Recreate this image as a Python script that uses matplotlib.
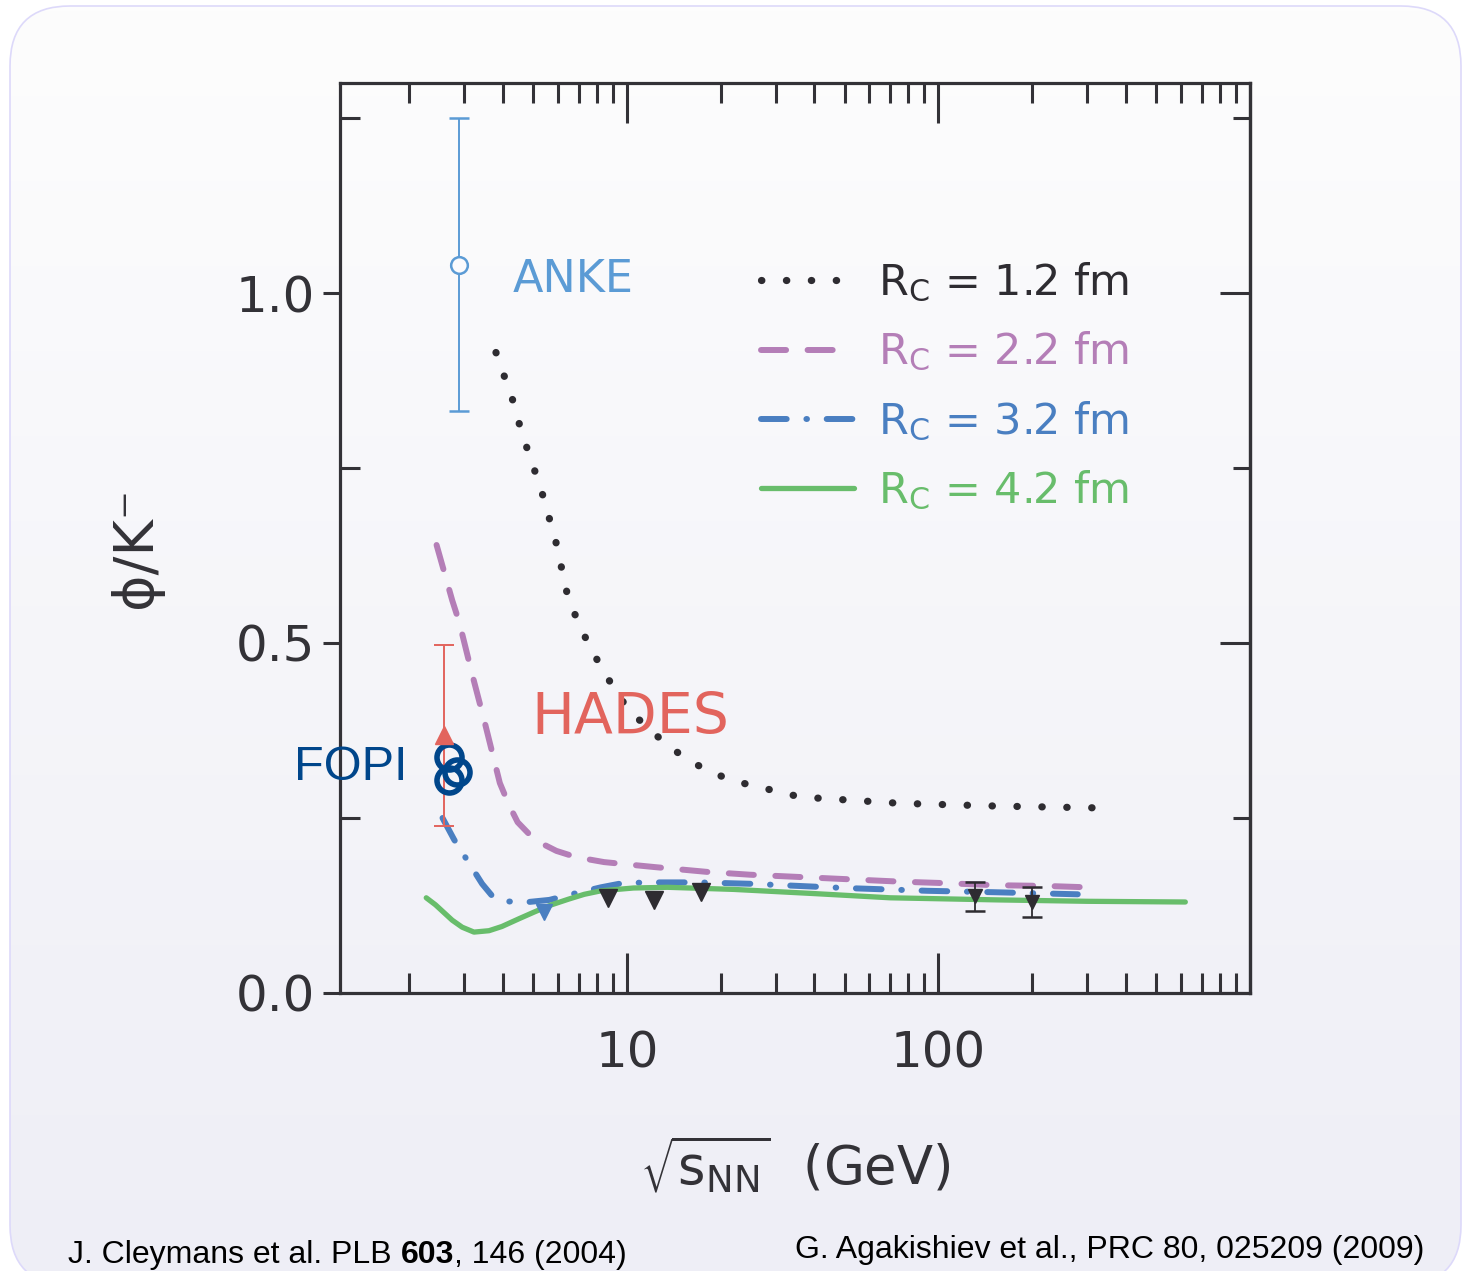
import numpy as np
import matplotlib
matplotlib.use("Agg")
import matplotlib.pyplot as plt
from matplotlib.patches import FancyBboxPatch
from matplotlib.colors import LinearSegmentedColormap

# --- model curves (phi/K- vs sqrt(s_NN)) ---
rc12_x = [3.8, 4.3, 4.6, 5.3, 5.9, 6.5, 7.6, 9.2, 10.2, 11.8, 13.5, 15.7, 18.5, 22, 36, 75, 155, 370]
rc12_y = [0.915, 0.847, 0.80, 0.72, 0.647, 0.561, 0.494, 0.431, 0.403, 0.377, 0.354, 0.333, 0.316, 0.303,
          0.28, 0.271, 0.267, 0.264]

rc22_x = [2.45, 2.75, 2.9, 3.18, 3.5, 3.91, 4.18, 4.46, 4.88, 5.36, 5.94, 6.88, 8.45, 12.2, 18.1, 24.8,
          76, 104, 151, 219, 300]
rc22_y = [0.64, 0.561, 0.529, 0.457, 0.386, 0.30, 0.269, 0.244, 0.226, 0.213, 0.203, 0.194, 0.187, 0.18,
          0.173, 0.169, 0.159, 0.157, 0.154, 0.153, 0.151]

rc32_x = [2.56, 2.79, 3.14, 3.43, 3.69, 3.97, 4.83, 5.64, 6.63, 8.26, 9.7, 12, 17, 25, 50, 92, 150, 280]
rc32_y = [0.25, 0.219, 0.183, 0.156, 0.139, 0.131, 0.13, 0.133, 0.141, 0.151, 0.157, 0.158, 0.158, 0.156,
          0.15, 0.146, 0.144, 0.141]

rc42_x = [2.27, 2.43, 2.75, 2.96, 3.23, 3.61, 3.97, 4.5, 5.06, 5.73, 6.49, 7.3, 8.26, 10.5, 13.5, 22, 40,
          70, 155, 300, 620]
rc42_y = [0.136, 0.126, 0.104, 0.094, 0.087, 0.089, 0.095, 0.106, 0.116, 0.126, 0.134, 0.141, 0.146, 0.150,
          0.151, 0.148, 0.142, 0.136, 0.133, 0.131, 0.130]

# --- data points ---
sps_x = [8.7, 12.2, 17.3]
sps_y = [0.136, 0.133, 0.144]
rhic_x = [131, 200]
rhic_y = [0.138, 0.13]
rhic_err = [0.021, 0.021]
ags_x = [5.4]
ags_y = [0.116]
anke_x = [2.9]
anke_y = [1.04]
anke_lo = [0.209]
anke_hi = [0.21]
hades_x = [2.58]
hades_y = [0.369]
hades_lo = [0.13]
hades_hi = [0.128]
fopi_x = [2.69, 2.85, 2.69]
fopi_y = [0.337, 0.316, 0.304]

legend_labels = [r'R$_\mathrm{C}$ = 1.2 fm', r'R$_\mathrm{C}$ = 2.2 fm',
                 r'R$_\mathrm{C}$ = 3.2 fm', r'R$_\mathrm{C}$ = 4.2 fm']
ytick_vals = [0.0, 0.5, 1.0]
ytick_labels = ['0.0', '0.5', '1.0']
xtick_vals = [10, 100]
xtick_labels = ['10', '100']

W, H = 1462, 1271
fig = plt.figure(figsize=(W / 100, H / 100), dpi=100)
fig.patch.set_facecolor('white')

# background rounded panel with soft gradient
bg = fig.add_axes([0, 0, 1, 1], zorder=-10)
bg.axis('off')
cmap = LinearSegmentedColormap.from_list('bgrad', ['#eeeef6', '#fdfdfd'])
grad = np.linspace(0, 1, 256)[:, None]
im = bg.imshow(grad, cmap=cmap, extent=[10, 1461, -14, 1265], origin='lower', aspect='auto')
bg.set_xlim(0, W)
bg.set_ylim(0, H)
panel = FancyBboxPatch((10, -14), 1451, 1279, boxstyle="round,pad=0,rounding_size=60",
                       facecolor='none', edgecolor='#ddd9fa', linewidth=1.2, transform=bg.transData)
bg.add_patch(panel)
im.set_clip_path(panel)

ax = fig.add_axes([340 / W, (H - 993) / H, 910 / W, 910 / H])
ax.set_facecolor('none')
ax.set_xscale('log')
ax.set_xlim(1.2, 1000)
ax.set_ylim(0, 1.3)

dark = '#2e2c31'
c_purple = '#b47eb7'
c_blue = '#4a7fc1'
c_green = '#68bd6b'

ax.plot(rc12_x, rc12_y, color=dark, lw=5.2, linestyle=(0, (0.05, 3.4)), dash_capstyle='round',
        label=legend_labels[0])
ax.plot(rc22_x, rc22_y, color=c_purple, lw=4.3, linestyle=(0, (4.2, 3.6)), dash_capstyle='round',
        label=legend_labels[1])
ax.plot(rc32_x, rc32_y, color=c_blue, lw=4.3, linestyle=(0, (4.3, 3.3, 0.1, 3.3)), dash_capstyle='round',
        label=legend_labels[2])
ax.plot(rc42_x, rc42_y, color=c_green, lw=3.8, solid_capstyle='round', label=legend_labels[3])

ax.plot(sps_x, sps_y, 'v', color=dark, ms=13, ls='none')
ax.errorbar(rhic_x, rhic_y, yerr=rhic_err, fmt='v', color=dark, ms=10, capsize=7, elinewidth=1.3,
            capthick=1.8)
ax.plot(ags_x, ags_y, 'v', color=c_blue, ms=12, ls='none')

ax.errorbar(anke_x, anke_y, yerr=[anke_lo, anke_hi], fmt='o', color='#5b9bd5', mfc='#fbfbfd', ms=12,
            mew=1.8, capsize=7, elinewidth=1.4, capthick=1.4)
ax.errorbar(hades_x, hades_y, yerr=[hades_lo, hades_hi], fmt='^', color='#e2645d', ms=13,
            capsize=7, elinewidth=1.4, capthick=1.4)
ax.plot(fopi_x, fopi_y, 'o', color='#00468b', mfc='none', ms=18, mew=4, ls='none')

ax.text(4.3, 1.02, 'ANKE', color='#5b9bd5', fontsize=32, va='center', ha='left')
ax.text(4.95, 0.392, 'HADES', color='#e2645d', fontsize=41, va='center', ha='left')
ax.text(2.42, 0.322, 'FOPI  ', color='#00468b', fontsize=35, va='center', ha='right',
        family='Liberation Sans')

leg = ax.legend(loc='upper left', bbox_to_anchor=(0.463, 0.804), frameon=False, fontsize=31,
                handlelength=2.15, handletextpad=0.55, labelspacing=0.6, borderpad=0, borderaxespad=0,
                labelcolor='linecolor')

# axes styling
for s in ax.spines.values():
    s.set_linewidth(2.3)
    s.set_color('#333237')

ax.set_xticks(xtick_vals)
ax.set_xticklabels(xtick_labels)
ax.xaxis.set_minor_locator(matplotlib.ticker.LogLocator(base=10, subs=np.arange(2, 10)))
ax.xaxis.set_minor_formatter(matplotlib.ticker.NullFormatter())
ax.tick_params(axis='x', which='major', direction='in', top=True, length=29, width=2.2,
               color='#333237', labelsize=36, labelcolor='#333237', pad=26)
ax.tick_params(axis='x', which='minor', direction='in', top=True, length=14.5, width=2.2, color='#333237')

ax.set_yticks(ytick_vals)
ax.set_yticklabels(ytick_labels)
ax.set_yticks([0.25, 0.75, 1.25], minor=True)
ax.tick_params(axis='y', which='major', direction='out', right=False, length=12, width=2.2,
               color='#333237', labelsize=36, labelcolor='#333237', pad=6)
ax.tick_params(axis='y', which='minor', direction='in', right=False, length=14.5, width=2.2, color='#333237')

ax_r = ax.secondary_yaxis('right')
ax_r.set_yticks(ytick_vals)
ax_r.set_yticks([0.25, 0.75, 1.25], minor=True)
ax_r.tick_params(which='major', direction='in', length=21.6, width=2.2, color='#333237', labelright=False)
ax_r.tick_params(which='minor', direction='in', length=12, width=2.2, color='#333237')
ax_r.spines['right'].set_linewidth(2.3)
ax_r.spines['right'].set_color('#333237')

ax.set_ylabel('ϕ/K⁻', fontsize=40, color='#333237')
ax.yaxis.set_label_coords(-0.195, 0.49)
ax.set_xlabel(r'$\sqrt{\mathrm{s}_{\mathrm{NN}}}$  (GeV)', fontsize=38, color='#333237')
ax.xaxis.label.set_va('center')
ax.xaxis.set_label_coords(0.5, -0.189)

# footer references
t1 = fig.text(68 / W, 16 / H, 'J. Cleymans et al. PLB ', fontsize=23, family='Liberation Sans',
              va='center', ha='left', color='black')
t2 = fig.text(0, 0, '603', fontsize=23, family='Liberation Sans', weight='bold', color='black')
t3 = fig.text(0, 0, ', 146 (2004)', fontsize=23, family='Liberation Sans', color='black')
fig.canvas.draw()
r = fig.canvas.get_renderer()
bb1 = t1.get_window_extent(r)
t2.set_position((bb1.x1 / W, bb1.y0 / H))
t2.set_va('bottom')
fig.canvas.draw()
bb2 = t2.get_window_extent(r)
t3.set_position((bb2.x1 / W, bb1.y0 / H))
t3.set_va('bottom')
fig.text(795 / W, 21 / H, 'G. Agakishiev et al., PRC 80, 025209 (2009)', fontsize=23,
         family='Liberation Sans', va='center', ha='left', color='black')

fig.savefig('out.png', dpi=100)
